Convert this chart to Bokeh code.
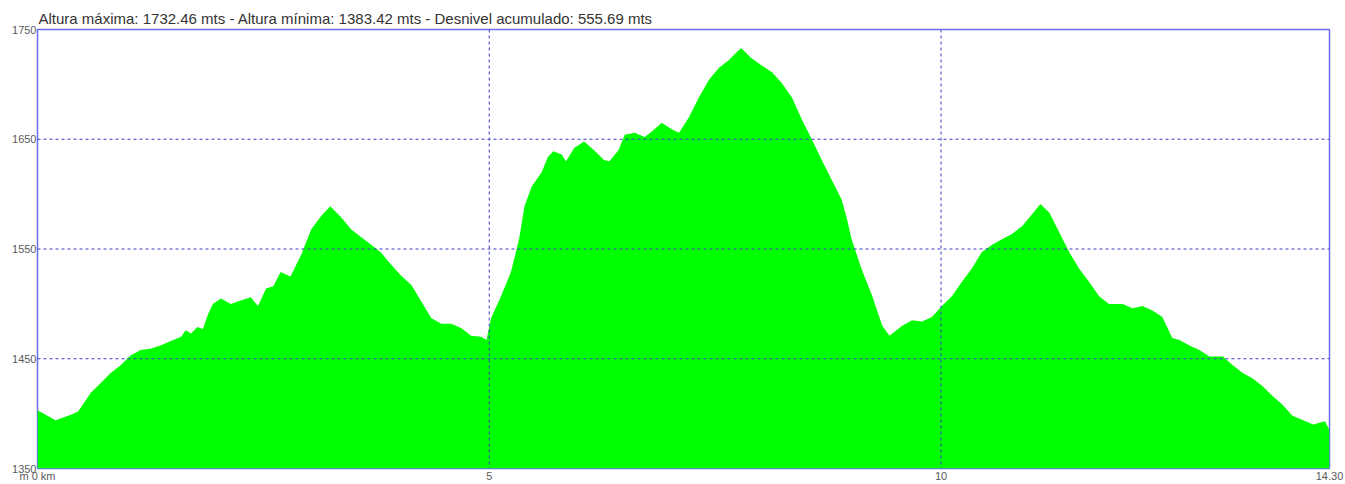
from bokeh.plotting import figure
from bokeh.models import Span, Range1d, FixedTicker
from bokeh.embed import file_html
from bokeh.resources import INLINE

# distance along the route (km) and elevation (m)
dist_km = [0.00, 0.20, 0.37, 0.45, 0.59, 0.70, 0.81, 0.92, 1.03, 1.14, 1.25, 1.36, 1.47, 1.59,
           1.64, 1.70, 1.77, 1.83, 1.88, 1.94, 2.03, 2.14, 2.25, 2.36, 2.44, 2.53, 2.61, 2.69,
           2.80, 2.92, 3.03, 3.14, 3.24, 3.36, 3.47, 3.58, 3.69, 3.80, 3.91, 4.02, 4.14, 4.25,
           4.36, 4.47, 4.58, 4.69, 4.80, 4.91, 4.97, 5.02, 5.13, 5.24, 5.33, 5.39, 5.47, 5.58,
           5.65, 5.71, 5.80, 5.85, 5.94, 6.05, 6.16, 6.27, 6.33, 6.43, 6.50, 6.61, 6.72, 6.80,
           6.91, 7.02, 7.10, 7.21, 7.32, 7.43, 7.54, 7.65, 7.76, 7.79, 7.90, 8.02, 8.13, 8.24,
           8.35, 8.46, 8.57, 8.68, 8.79, 8.90, 8.96, 9.01, 9.12, 9.24, 9.35, 9.43, 9.57, 9.68,
           9.79, 9.90, 10.01, 10.12, 10.23, 10.34, 10.45, 10.57, 10.68, 10.79, 10.90, 11.01,
           11.10, 11.20, 11.31, 11.42, 11.53, 11.64, 11.75, 11.86, 12.01, 12.12, 12.23, 12.34,
           12.45, 12.56, 12.64, 12.75, 12.86, 12.97, 13.12, 13.23, 13.34, 13.45, 13.56, 13.67,
           13.78, 13.89, 14.01, 14.12, 14.25, 14.30]
elev_m = [1403, 1394, 1399, 1402, 1419, 1428, 1437, 1444, 1453, 1458, 1459, 1462, 1466, 1470,
          1476, 1473, 1479, 1477, 1489, 1500, 1505, 1500, 1503, 1506, 1498, 1514, 1516, 1529,
          1525, 1545, 1568, 1580, 1589, 1579, 1568, 1561, 1554, 1547, 1536, 1526, 1517, 1502,
          1487, 1482, 1482, 1478, 1471, 1470, 1467, 1487, 1507, 1529, 1559, 1589, 1607, 1620,
          1634, 1639, 1636, 1630, 1642, 1648, 1640, 1631, 1630, 1640, 1654, 1656, 1652, 1657,
          1665, 1659, 1656, 1670, 1688, 1704, 1715, 1722, 1731, 1733, 1724, 1717, 1711, 1701,
          1688, 1668, 1650, 1631, 1613, 1595, 1577, 1559, 1532, 1507, 1480, 1471, 1480, 1485,
          1484, 1488, 1498, 1507, 1520, 1532, 1547, 1554, 1559, 1564, 1571, 1582,
          1591, 1583, 1565, 1547, 1532, 1520, 1507, 1500, 1500, 1496, 1498, 1494,
          1488, 1469, 1467, 1462, 1458, 1452, 1452, 1444, 1437, 1432, 1425, 1416,
          1408, 1398, 1394, 1390, 1393, 1385]

y_ticks = [1350, 1450, 1550, 1650, 1750]
y_tick_labels = ["1350", "1450", "1550", "1650", "1750"]
y_grid = [1450, 1550, 1650]
x_ticks = [0, 5, 10, 14.30]
x_tick_labels = ["m 0 km", "5", "10", "14.30"]
x_grid = [5, 10]
title_text = ("Altura máxima: 1732.46 mts - Altura mínima: 1383.42 mts - "
              "Desnivel acumulado: 555.69 mts")

FONT = "Liberation Sans"

p = figure(width=1345, height=484, x_range=Range1d(0, 14.30), y_range=Range1d(1350, 1750),
           output_backend="svg", toolbar_location=None, title=title_text,
           min_border_left=37, min_border_right=16, min_border_top=29, min_border_bottom=13)
p.background_fill_color = "white"
p.border_fill_color = "white"
p.outline_line_color = "#6c6cf0"
p.outline_line_width = 1.5
p.grid.visible = False

p.title.align = "left"
p.title.offset = 1
p.title.standoff = 5
p.title.text_font = FONT
p.title.text_font_size = "15px"
p.title.text_font_style = "normal"
p.title.text_color = "#333333"

p.varea(x=dist_km, y1=[1350] * len(dist_km), y2=elev_m, fill_color="#00ff00")

for g in x_grid:
    p.add_layout(Span(location=g, dimension="height", line_color="#3c3cc8",
                      line_dash="3 3", line_width=1, level="overlay"))
for g in y_grid:
    p.add_layout(Span(location=g, dimension="width", line_color="#3c3cc8",
                      line_dash="3 3", line_width=1, level="overlay"))

for ax in (p.xaxis[0], p.yaxis[0]):
    ax.axis_line_color = None
    ax.major_tick_line_color = None
    ax.minor_tick_line_color = None
    ax.major_tick_out = 0
    ax.major_tick_in = 0
    ax.minor_tick_out = 0
    ax.major_label_standoff = 1
    ax.major_label_text_font = FONT
    ax.major_label_text_font_size = "11px"
    ax.major_label_text_color = "#5a5a5a"

p.yaxis[0].ticker = FixedTicker(ticks=y_ticks)
p.yaxis[0].major_label_overrides = dict(zip(y_ticks, y_tick_labels))
p.xaxis[0].ticker = FixedTicker(ticks=x_ticks)
p.xaxis[0].major_label_overrides = dict(zip(x_ticks, x_tick_labels))

open("out.html", "w").write(file_html(p, INLINE))
